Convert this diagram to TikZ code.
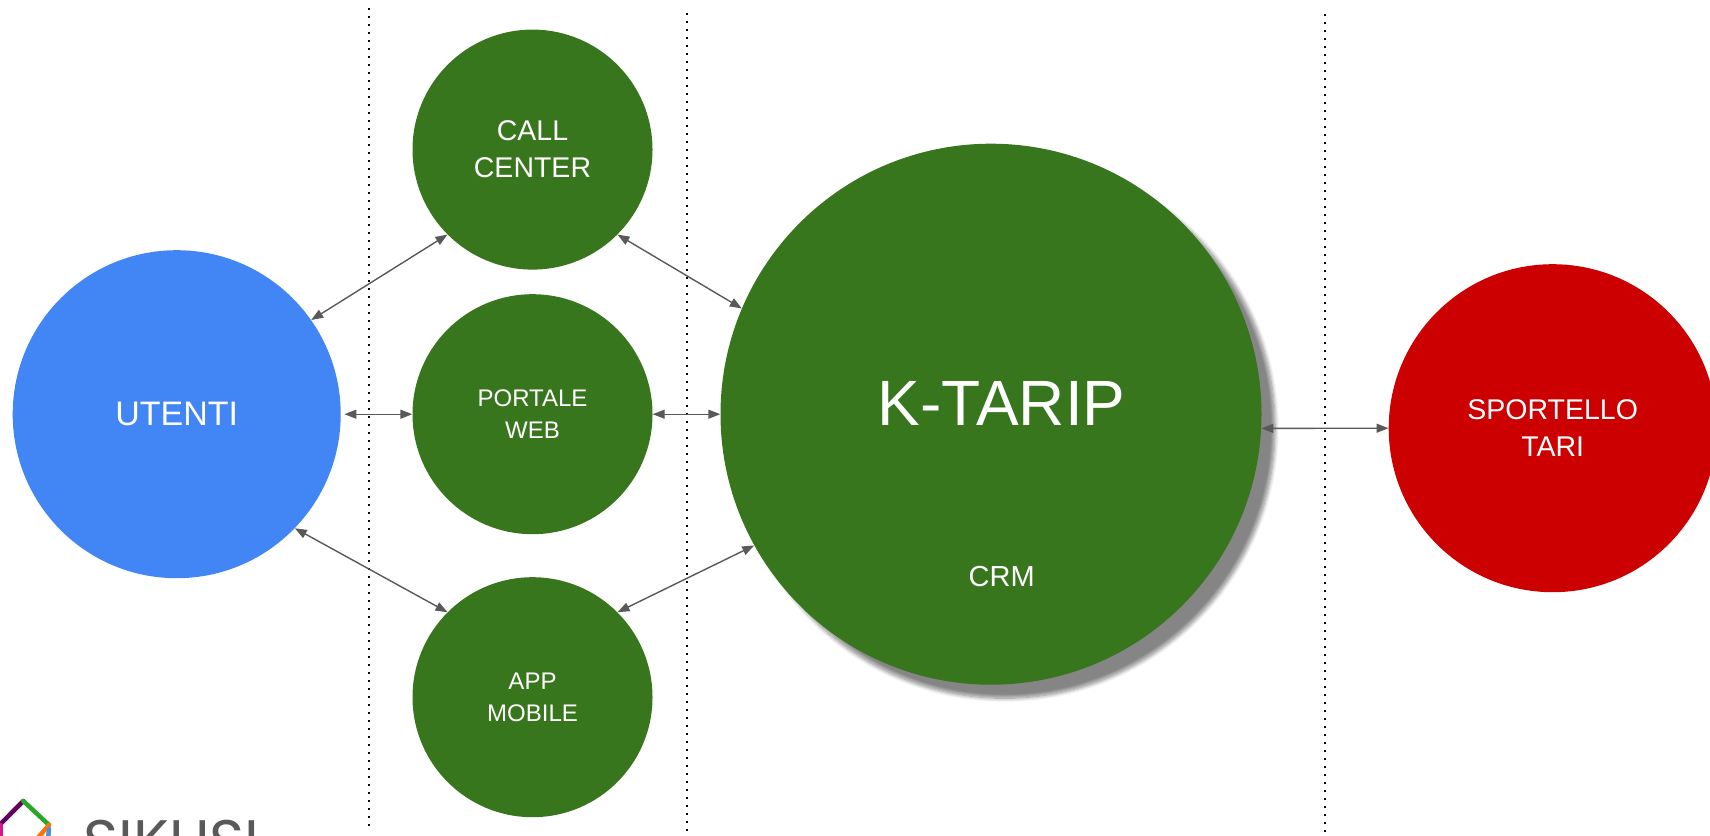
\documentclass[tikz,border=0pt]{standalone}
\usepackage{fontspec}
\setmainfont{Liberation Sans}
\newfontfamily\logofont{Poppins}
\usepackage{tikz}
\usetikzlibrary{positioning, arrows.meta, shadows.blur}
\definecolor{kgreen}{HTML}{38761D}
\definecolor{kblue}{HTML}{4285F4}
\definecolor{kred}{HTML}{CC0000}
\definecolor{karrow}{HTML}{595959}
\newcommand{\fsize}[2]{\fontsize{#1}{#2}\selectfont}
\tikzset{
    on grid, % Distances below are measured between centres
    every edge/.style={ % Sets the properties for each connection
        draw=karrow,
        <->,>={Triangle[length=12pt,width=9pt]},
        line width=1.4pt
    },
    bubble/.style={ % Sets the properties for each circle
        circle,
        inner sep=0pt,
        text=white,
        align=center
    },
    channel/.style={bubble, fill=kgreen, minimum size=240pt},
    outer/.style={bubble, minimum size=328pt},
    caption/.style={text=white, inner sep=0pt},
    separator/.style={draw=black, line width=2pt, dash pattern=on 2pt off 6pt},
    logoline/.style={line width=4.5pt, line cap=round}
}
\begin{document}
\begin{tikzpicture}[x=1pt, y=-1pt]
    \useasboundingbox (0,0) rectangle (1710,835);
    \clip (0,0) rectangle (1710,835);
    % separators
    \coordinate (sepa) at (369.3,8.3);
    \coordinate (sepb) at (369.3,826);
    \coordinate (sepc) at (686.7,13.3);
    \coordinate (sepd) at (686.7,835);
    \coordinate (sepe) at (1325,14);
    \coordinate (sepf) at (1325,835);
    \draw[separator] (sepa) -- (sepb);
    \draw[separator] (sepc) -- (sepd);
    \draw[separator] (sepe) -- (sepf);
    % circles
    \node[outer, fill=kblue, font=\fsize{34}{40}]            (utenti)     at (176.7,414.2) {UTENTI};
    \node[channel, font=\fsize{24}{32}, right=355.8pt of utenti]  (portale)    {PORTALE\\WEB};
    \node[channel, font=\fsize{28.5}{37}, above=264.6pt of portale] (callcenter) {CALL\\CENTER};
    \node[channel, font=\fsize{24}{32}, below=283pt of portale]   (appmobile)  {APP\\MOBILE};
    \node[bubble, fill=kgreen, minimum size=541pt, right=458.5pt of portale,
          blur shadow={shadow xshift=13.5pt, shadow yshift=-13.5pt, shadow blur radius=4pt,
                       shadow opacity=48, shadow blur steps=8}] (ktarip) {};
    \node[outer, fill=kred, font=\fsize{28.5}{37}, below right=14pt and 561.7pt of ktarip] (sportello) {SPORTELLO\\TARI};
    \node[caption, font=\fsize{64}{70}, above right=10.8pt and 10.7pt of ktarip] (ktaripname) {K-TARIP};
    \node[caption, font=\fsize{29}{34}, below right=162.6pt and 10.7pt of ktarip] (crm) {CRM};
    % connections
    \draw   (utenti.35) edge (callcenter.225)
            (utenti.east) edge[shorten <=3.5pt] (portale.west)
            (utenti.-44.7) edge (appmobile.135)
            (callcenter.-45) edge (ktarip.157.6)
            (portale.east) edge (ktarip.west)
            (appmobile.45.5) edge (ktarip.209)
            (ktarip.-3) edge (sportello.west)
    ;
    % logo
    \coordinate (logotop) at (23.3,801);
    \coordinate (logoright) at (49,825);
    \draw[logoline, draw=violet!75!black] (logotop) -- (1.5,823);
    \draw[logoline, draw=green!60!black!85] (logotop) -- (logoright);
    \draw[logoline, draw=magenta!90!black] (0.5,825) -- (0.5,840);
    \draw[logoline, draw=orange!90!red] (logoright) -- (36,840);
    \draw[logoline, draw=cyan!60!blue!75] (49,829) -- (48,840);
    \node[text=karrow, font={\logofont\fsize{60}{60}}, anchor=base west, inner sep=0pt] (logotext) at (83,862) {SIKUSI};
\end{tikzpicture}
\end{document}
